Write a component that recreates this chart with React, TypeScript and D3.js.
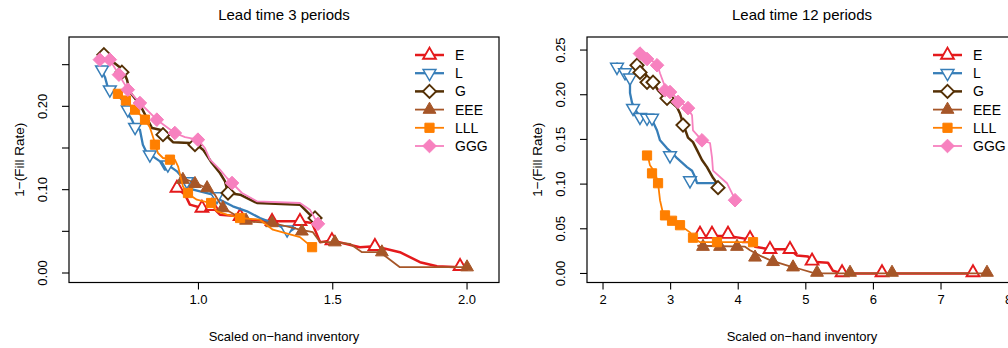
import React from 'react';
import * as d3 from 'd3';

type P = [number, number];

// ---------- styles (kept apart from data) ----------
const seriesNames = ['E', 'L', 'G', 'EEE', 'LLL', 'GGG'];
const seriesColors = ['#E41A1C', '#377EB8', '#543005', '#A65628', '#FF7F00', '#F781BF'];
const seriesShapes = ['tri', 'triDown', 'diamond', 'triFill', 'square', 'diamondFill'];
const seriesLineWidths = [2.5, 2.3, 2.5, 1.8, 1.8, 1.8];
const seriesMarkerStroke = [1.9, 1.5, 1.9, 1, 1, 1];

// ---------- Lead time 3 periods ----------
const lt3_E_line: P[] = [[0.920,0.102],[0.950,0.094],[0.968,0.082],[1.013,0.078],[1.050,0.080],[1.080,0.070],[1.155,0.068],[1.192,0.064],[1.274,0.062],[1.378,0.062],[1.423,0.060],[1.453,0.037],[1.497,0.039],[1.601,0.031],[1.657,0.032],[1.750,0.025],[1.825,0.013],[1.888,0.008],[1.974,0.007]];
const lt3_E_pts: P[] = [[0.920,0.102],[1.013,0.078],[1.050,0.080],[1.155,0.068],[1.274,0.062],[1.378,0.062],[1.497,0.039],[1.657,0.032],[1.974,0.008]];

const lt3_L_line: P[] = [[0.633,0.247],[0.652,0.235],[0.663,0.222],[0.689,0.217],[0.715,0.208],[0.734,0.193],[0.752,0.184],[0.764,0.175],[0.782,0.172],[0.793,0.154],[0.808,0.144],[0.830,0.140],[0.857,0.134],[0.875,0.124],[0.894,0.128],[0.920,0.122],[0.957,0.108],[0.980,0.100],[1.054,0.094],[1.080,0.088],[1.128,0.080],[1.181,0.074],[1.229,0.066],[1.292,0.058],[1.341,0.050],[1.359,0.054]];
const lt3_L_pts: P[] = [[0.641,0.244],[0.670,0.220],[0.737,0.196],[0.764,0.175],[0.819,0.142],[0.886,0.130],[0.957,0.110],[1.069,0.092],[1.330,0.052]];

const lt3_G_line: P[] = [[0.648,0.262],[0.719,0.244],[0.734,0.232],[0.745,0.217],[0.782,0.202],[0.827,0.174],[0.857,0.172],[0.905,0.157],[0.968,0.156],[0.994,0.154],[1.017,0.148],[1.050,0.132],[1.080,0.120],[1.099,0.110],[1.110,0.096],[1.155,0.094],[1.218,0.084],[1.378,0.082],[1.415,0.070],[1.434,0.066]];
const lt3_G_pts: P[] = [[0.648,0.262],[0.715,0.241],[0.868,0.166],[0.987,0.154],[1.110,0.096],[1.434,0.066]];

const lt3_EEE_line: P[] = [[0.942,0.114],[0.987,0.108],[1.032,0.102],[1.061,0.094],[1.091,0.078],[1.136,0.070],[1.173,0.062],[1.277,0.060],[1.378,0.052],[1.426,0.049],[1.453,0.037],[1.501,0.037],[1.564,0.035],[1.609,0.025],[1.676,0.025],[1.750,0.007],[2.000,0.007]];
const lt3_EEE_pts: P[] = [[0.942,0.112],[0.987,0.107],[1.032,0.102],[1.091,0.078],[1.177,0.063],[1.274,0.060],[1.385,0.050],[1.508,0.037],[1.683,0.025],[2.000,0.007]];

const lt3_LLL_line: P[] = [[0.689,0.217],[0.700,0.214],[0.726,0.207],[0.764,0.196],[0.801,0.184],[0.819,0.175],[0.838,0.156],[0.849,0.144],[0.868,0.138],[0.912,0.136],[0.924,0.128],[0.942,0.104],[0.957,0.096],[0.994,0.088],[1.043,0.084],[1.069,0.074],[1.106,0.070],[1.155,0.066],[1.229,0.064],[1.277,0.052],[1.378,0.043],[1.423,0.031]];
const lt3_LLL_pts: P[] = [[0.700,0.215],[0.730,0.207],[0.764,0.196],[0.801,0.184],[0.838,0.154],[0.894,0.136],[0.961,0.096],[1.047,0.084],[1.155,0.066],[1.423,0.031]];

const lt3_GGG_line: P[] = [[0.633,0.256],[0.670,0.256],[0.704,0.238],[0.737,0.220],[0.782,0.204],[0.845,0.184],[0.912,0.168],[0.950,0.163],[0.998,0.160],[1.024,0.150],[1.043,0.136],[1.080,0.124],[1.106,0.114],[1.125,0.108],[1.162,0.096],[1.218,0.086],[1.378,0.084],[1.415,0.076],[1.445,0.059]];
const lt3_GGG_pts: P[] = [[0.633,0.256],[0.670,0.256],[0.704,0.238],[0.737,0.220],[0.782,0.204],[0.845,0.184],[0.912,0.168],[0.998,0.160],[1.125,0.108],[1.445,0.059]];

// ---------- Lead time 12 periods ----------
const lt12_E_line: P[] = [[3.405,0.040],[3.435,0.042],[3.612,0.042],[3.849,0.042],[4.101,0.039],[4.175,0.039],[4.249,0.030],[4.470,0.027],[4.766,0.027],[4.870,0.020],[5.033,0.019],[5.092,0.013],[5.328,0.012],[5.402,0.003],[5.536,0.000],[7.473,0.000]];
const lt12_E_pts: P[] = [[3.435,0.044],[3.612,0.044],[3.849,0.044],[4.175,0.039],[4.470,0.027],[4.766,0.027],[5.092,0.014],[5.536,0.001],[6.127,0.001],[7.473,0.001]];

const lt12_L_line: P[] = [[2.207,0.235],[2.296,0.228],[2.370,0.224],[2.399,0.216],[2.399,0.202],[2.429,0.191],[2.503,0.180],[2.577,0.175],[2.725,0.172],[2.799,0.160],[2.843,0.149],[2.947,0.140],[3.021,0.135],[3.095,0.129],[3.169,0.124],[3.243,0.119],[3.317,0.115],[3.361,0.108],[3.391,0.101],[3.686,0.101]];
const lt12_L_pts: P[] = [[2.207,0.231],[2.325,0.225],[2.399,0.219],[2.444,0.185],[2.547,0.175],[2.651,0.174],[2.725,0.174],[2.991,0.132],[3.287,0.104]];

const lt12_G_line: P[] = [[2.473,0.237],[2.577,0.230],[2.651,0.220],[2.725,0.216],[2.814,0.205],[2.917,0.197],[3.021,0.191],[3.095,0.186],[3.139,0.179],[3.183,0.168],[3.257,0.152],[3.331,0.147],[3.391,0.138],[3.464,0.127],[3.538,0.119],[3.627,0.107],[3.686,0.101],[3.701,0.096]];
const lt12_G_pts: P[] = [[2.503,0.233],[2.547,0.225],[2.651,0.214],[2.740,0.214],[2.947,0.196],[3.183,0.166],[3.701,0.096]];

const lt12_EEE_line: P[] = [[3.405,0.031],[4.101,0.030],[4.175,0.026],[4.322,0.020],[4.470,0.015],[4.766,0.008],[4.914,0.005],[5.136,0.000],[7.680,0.000]];
const lt12_EEE_pts: P[] = [[3.479,0.030],[3.731,0.030],[3.982,0.030],[4.249,0.018],[4.515,0.013],[4.811,0.007],[5.166,0.001],[5.654,0.001],[6.275,0.001],[7.680,0.001]];

const lt12_LLL_line: P[] = [[2.651,0.135],[2.695,0.121],[2.769,0.113],[2.814,0.101],[2.843,0.082],[2.888,0.067],[3.021,0.059],[3.139,0.054],[3.287,0.046],[3.331,0.040],[3.435,0.035],[4.219,0.035]];
const lt12_LLL_pts: P[] = [[2.651,0.132],[2.725,0.112],[2.814,0.101],[2.917,0.065],[3.021,0.059],[3.139,0.054],[3.331,0.040],[3.686,0.035],[4.219,0.035]];

const lt12_GGG_line: P[] = [[2.518,0.247],[2.651,0.241],[2.799,0.235],[2.843,0.224],[2.917,0.209],[3.021,0.202],[3.109,0.194],[3.243,0.186],[3.317,0.177],[3.331,0.160],[3.464,0.149],[3.583,0.146],[3.612,0.130],[3.627,0.115],[3.731,0.108],[3.834,0.101],[3.953,0.083]];
const lt12_GGG_pts: P[] = [[2.547,0.246],[2.651,0.240],[2.799,0.233],[2.917,0.205],[2.991,0.203],[3.109,0.192],[3.257,0.185],[3.464,0.149],[3.953,0.082]];

// ---------- axes ----------
const lt3_xDomain: P = [0.518, 2.119];
const lt3_yDomain: P = [-0.0114, 0.2832];
const lt3_xTicks = [1.0, 1.5, 2.0];
const lt3_yTicks = [0, 0.05, 0.1, 0.15, 0.2, 0.25];
const lt3_yTickLabels = ['0.00', '', '0.10', '', '0.20', ''];

const lt12_xDomain: P = [1.763, 8.124];
const lt12_yDomain: P = [-0.0101, 0.2646];
const lt12_xTicks = [2, 3, 4, 5, 6, 7, 8];
const lt12_yTicks = [0, 0.05, 0.1, 0.15, 0.2, 0.25];
const lt12_yTickLabels = ['0.00', '0.05', '0.10', '0.15', '0.20', '0.25'];

const panelTitles = ['Lead time 3 periods', 'Lead time 12 periods'];
const xLabel = 'Scaled on\u2212hand inventory';
const yLabel = '1\u2212(Fill Rate)';

const panels = [
  {
    title: panelTitles[0],
    xDomain: lt3_xDomain, yDomain: lt3_yDomain,
    xTicks: lt3_xTicks, xTickFmt: d3.format('.1f'),
    yTicks: lt3_yTicks, yTickLabels: lt3_yTickLabels,
    lines: [lt3_E_line, lt3_L_line, lt3_G_line, lt3_EEE_line, lt3_LLL_line, lt3_GGG_line],
    pts: [lt3_E_pts, lt3_L_pts, lt3_G_pts, lt3_EEE_pts, lt3_LLL_pts, lt3_GGG_pts],
    left: 69,
  },
  {
    title: panelTitles[1],
    xDomain: lt12_xDomain, yDomain: lt12_yDomain,
    xTicks: lt12_xTicks, xTickFmt: d3.format('d'),
    yTicks: lt12_yTicks, yTickLabels: lt12_yTickLabels,
    lines: [lt12_E_line, lt12_L_line, lt12_G_line, lt12_EEE_line, lt12_LLL_line, lt12_GGG_line],
    pts: [lt12_E_pts, lt12_L_pts, lt12_G_pts, lt12_EEE_pts, lt12_LLL_pts, lt12_GGG_pts],
    left: 587,
  },
];

const W = 1008;
const H = 348;
const BOX_W = 430;
const BOX_TOP = 37;
const BOX_BOTTOM = 282.5;
const FONT = '"Liberation Sans", Arial, Helvetica, sans-serif';

function markerPath(shape: string, cx: number, cy: number): string {
  switch (shape) {
    case 'tri':
    case 'triFill': {
      const r = 7.4, xc = 6.4, yc = 3.7;
      return `M${cx},${cy - r}L${cx + xc},${cy + yc}L${cx - xc},${cy + yc}Z`;
    }
    case 'triDown': {
      const r = 7.4, xc = 6.4, yc = 3.7;
      return `M${cx},${cy + r}L${cx + xc},${cy - yc}L${cx - xc},${cy - yc}Z`;
    }
    case 'diamond': {
      const d = 6.6;
      return `M${cx},${cy - d}L${cx + d},${cy}L${cx},${cy + d}L${cx - d},${cy}Z`;
    }
    case 'diamondFill': {
      const d = 6.8;
      return `M${cx},${cy - d}L${cx + d},${cy}L${cx},${cy + d}L${cx - d},${cy}Z`;
    }
    case 'square': {
      const h = 4.6;
      return `M${cx - h},${cy - h}H${cx + h}V${cy + h}H${cx - h}Z`;
    }
  }
  return '';
}

function Marker({ i, cx, cy }: { i: number; cx: number; cy: number }) {
  const shape = seriesShapes[i];
  const filled = shape === 'triFill' || shape === 'square' || shape === 'diamondFill';
  return (
    <path
      d={markerPath(shape, cx, cy)}
      fill={filled ? seriesColors[i] : '#fff'}
      stroke={seriesColors[i]}
      strokeWidth={seriesMarkerStroke[i]}
      strokeLinejoin="miter"
    />
  );
}

function Panel({ p, idx }: { p: (typeof panels)[number]; idx: number }) {
  const x0 = p.left;
  const x1 = p.left + BOX_W;
  const xs = d3.scaleLinear().domain(p.xDomain).range([x0, x1]);
  const ys = d3.scaleLinear().domain(p.yDomain).range([BOX_BOTTOM, BOX_TOP]);
  const line = d3.line<P>().x((d) => xs(d[0])).y((d) => ys(d[1]));
  const clipId = `clip${idx}`;
  const cx = (x0 + x1) / 2;
  const cy = (BOX_TOP + BOX_BOTTOM) / 2;
  return (
    <g>
      <defs>
        <clipPath id={clipId}>
          <rect x={x0} y={BOX_TOP} width={BOX_W} height={BOX_BOTTOM - BOX_TOP} />
        </clipPath>
      </defs>
      <text x={cx} y={20} textAnchor="middle" fontSize={15}>{p.title}</text>
      <g clipPath={`url(#${clipId})`}>
        {p.lines.map((ln, i) => (
          <g key={i}>
            <path d={line(ln) || ''} fill="none" stroke={seriesColors[i]} strokeWidth={seriesLineWidths[i]}
              strokeLinejoin="round" strokeLinecap="round" />
            {p.pts[i].map((d, j) => (
              <Marker key={j} i={i} cx={xs(d[0])} cy={ys(d[1])} />
            ))}
          </g>
        ))}
      </g>
      <rect x={x0} y={BOX_TOP} width={BOX_W} height={BOX_BOTTOM - BOX_TOP} fill="none" stroke="#000" strokeWidth={1.2} />
      {/* x axis */}
      {p.xTicks.map((t) => (
        <g key={t}>
          <line x1={xs(t)} x2={xs(t)} y1={BOX_BOTTOM} y2={BOX_BOTTOM + 7} stroke="#000" strokeWidth={1.1} />
          <text x={xs(t)} y={304} textAnchor="middle" fontSize={13}>{p.xTickFmt(t)}</text>
        </g>
      ))}
      {/* y axis */}
      {p.yTicks.map((t, k) => (
        <g key={t}>
          <line x1={x0 - 7} x2={x0} y1={ys(t)} y2={ys(t)} stroke="#000" strokeWidth={1.1} />
          {p.yTickLabels[k] && (
            <text transform={`translate(${x0 - 22.5},${ys(t)}) rotate(-90)`} textAnchor="middle" fontSize={13}>
              {p.yTickLabels[k]}
            </text>
          )}
        </g>
      ))}
      <text x={cx} y={341} textAnchor="middle" fontSize={13}>{xLabel}</text>
      <text transform={`translate(${x0 - 45},${cy}) rotate(-90)`} textAnchor="middle" fontSize={13.5}>{yLabel}</text>
      {/* legend */}
      {seriesNames.map((name, i) => {
        const ly = BOX_TOP + 18 + i * 18.2;
        return (
          <g key={name}>
            <line x1={x0 + 346} x2={x0 + 375} y1={ly} y2={ly} stroke={seriesColors[i]} strokeWidth={seriesLineWidths[i]} />
            <Marker i={i} cx={x0 + 360.5} cy={ly} />
            <text x={x0 + 386} y={ly + 5} fontSize={14}>{name}</text>
          </g>
        );
      })}
    </g>
  );
}

export default function App() {
  return (
    <svg width={W} height={H} style={{ position: 'absolute', left: 0, top: 0, background: '#fff' }}
      fontFamily={FONT} fill="#000">
      <rect x={0} y={0} width={W} height={H} fill="#fff" />
      {panels.map((p, i) => (
        <Panel key={i} p={p} idx={i} />
      ))}
    </svg>
  );
}
